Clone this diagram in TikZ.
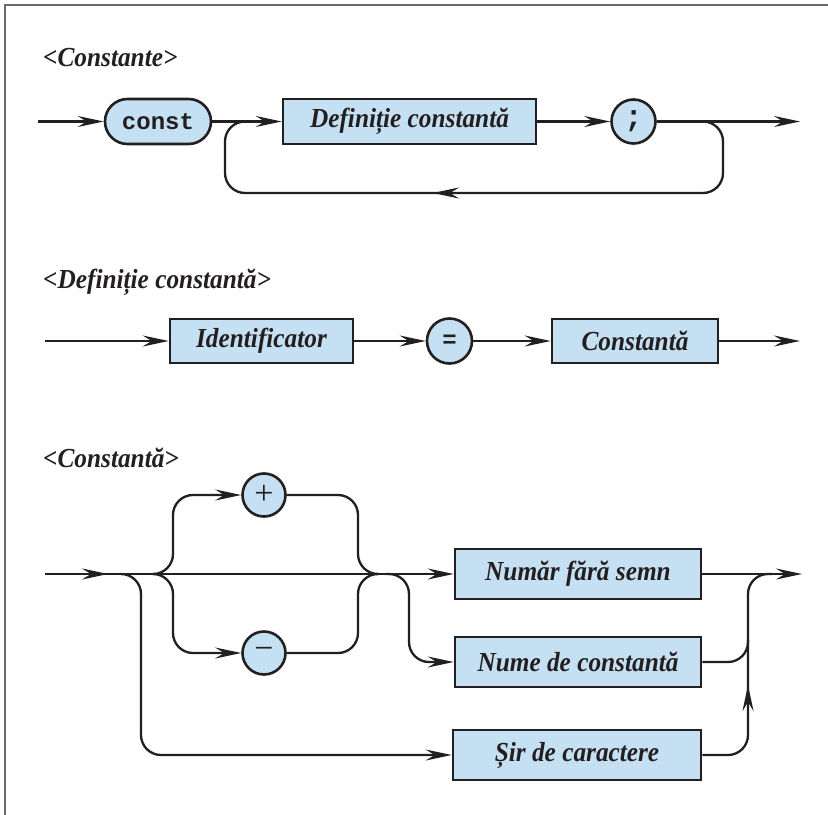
\documentclass[tikz,border=0pt]{standalone}
\usepackage{fontspec}
\setmainfont{Liberation Serif}
\setmonofont{Liberation Mono}
\newfontfamily\labelfont{Liberation Serif}[FakeStretch=0.92]
\usetikzlibrary{arrows.meta,shapes.misc}
\definecolor{boxfill}{RGB}{197,224,242}
\definecolor{ink}{RGB}{35,31,32}
\definecolor{framegray}{RGB}{105,105,105}
\begin{document}
\begin{tikzpicture}[x=1bp,y=-1bp,
  >={Stealth[length=26bp,width=11bp,inset=9bp]},
  conn/.style={draw=ink,line width=2.3bp,rounded corners=20bp},
  term/.style={draw=ink,fill=boxfill,line width=2.6bp,inner sep=0pt},
  ntbox/.style={term,rectangle,text=ink,
    font=\labelfont\fontsize{27.5bp}{32bp}\selectfont\bfseries\itshape},
  kwbox/.style={term,rounded rectangle,text=ink,minimum width=106bp,minimum height=45bp,
    font=\fontsize{24bp}{28bp}\selectfont\ttfamily\bfseries},
  symcirc/.style={term,circle,minimum size=44bp,text=ink},
  rulename/.style={anchor=base west,inner sep=0pt,text=ink,
    font=\labelfont\fontsize{27.5bp}{32bp}\selectfont\bfseries\itshape}]
\useasboundingbox (0,0) rectangle (828,815);
\fill[white] (0,0) rectangle (828,815);
% page frame (top and left edges)
\draw[framegray,line width=2bp] (828,5) -- (5,5) -- (5,815);

% ---------------- <Constante> ----------------
\node[rulename] (t1) at (43,67) {<Constante>};
\coordinate (s1) at (38,121.5);
\coordinate (e1) at (800,121.5);
\node[kwbox] (const) at (158,121.5) {const};
\node[ntbox,minimum width=253bp,minimum height=45bp] (def) at (409.5,121.5) {Definiție constantă};
\node[symcirc,font=\fontsize{30bp}{32bp}\selectfont\ttfamily\bfseries] (semi) at (633.5,121.5) {;};
\coordinate (l1a) at (723,121.5);
\coordinate (l1b) at (723,193);
\coordinate (l1c) at (225,193);
\coordinate (l1d) at (225,121.5);
\coordinate (l1e) at (252,121.5);
\coordinate (l1m) at (470,193);
\coordinate (l1t) at (433,193);
\draw[conn,->] (s1) -- (const.west);
\draw[conn,->] (const.east) -- (def.west);
\draw[conn,->] (def.east) -- (semi.west);
\draw[conn,->] (semi.east) -- (e1);
\draw[conn] (semi.east) -- (l1a) -- (l1b) -- (l1c) -- (l1d) -- (l1e);
\draw[conn,->] (l1m) -- (l1t);

% ---------------- <Definiție constantă> ----------------
\node[rulename] (t2) at (43,288) {<Definiție constantă>};
\coordinate (s2) at (45,341);
\coordinate (e2) at (800,341);
\node[ntbox,minimum width=183bp,minimum height=44bp] (ident) at (261.5,341) {Identificator};
\node[symcirc,minimum size=45bp,font=\fontsize{24bp}{28bp}\selectfont\ttfamily\bfseries] (eq) at (449.5,341) {=};
\node[ntbox,minimum width=166bp,minimum height=44bp] (cst) at (635,341) {Constantă};
\draw[conn,->] (s2) -- (ident.west);
\draw[conn,->] (ident.east) -- (eq.west);
\draw[conn,->] (eq.east) -- (cst.west);
\draw[conn,->] (cst.east) -- (e2);

% ---------------- <Constantă> ----------------
\node[rulename] (t3) at (43,467) {<Constantă>};
\coordinate (s3) at (45,574);
\coordinate (m3) at (108,574);
\coordinate (e3) at (802,574);
\node[symcirc,minimum size=43bp,font=\fontsize{34bp}{36bp}\selectfont] (plus) at (264,495) {+};
\node[symcirc,minimum size=43bp,font=\fontsize{34bp}{36bp}\selectfont] (minus) at (264,653) {−};
\node[ntbox,minimum width=246bp,minimum height=50bp] (numar) at (578,574) {Număr fără semn};
\node[ntbox,minimum width=246bp,minimum height=50bp] (nume) at (578,662) {Nume de constantă};
\node[ntbox,minimum width=248bp,minimum height=50bp] (sir) at (577,755) {Șir de caractere};

% main line
\draw[conn,->] (s3) -- (numar.west);
\draw[conn,->] (s3) -- (m3);
\draw[conn,->] (numar.east) -- (e3);

% sign branches
\coordinate (sa) at (155,574);
\coordinate (sb) at (173,574);
\coordinate (sc) at (358,574);
\coordinate (sd) at (377,574);
\draw[conn,->] (sa) -- (sb) -- (sb |- plus) -- (plus.west);
\draw[conn] (plus.east) -- (sc |- plus) -- (sc) -- (sd);
\draw[conn,->] (sa) -- (sb) -- (sb |- minus) -- (minus.west);
\draw[conn] (minus.east) -- (sc |- minus) -- (sc) -- (sd);

% branch to the string literal
\coordinate (ba) at (122,574);
\coordinate (bb) at (141,574);
\draw[conn,->] (ba) -- (bb) -- (bb |- sir) -- (sir.west);

% branch to the constant name
\coordinate (na) at (386,574);
\coordinate (nb) at (409,574);
\draw[conn,->] (na) -- (nb) -- (nb |- nume) -- (nume.west);

% merging on the right
\coordinate (ra) at (748,574);
\coordinate (rb) at (772,574);
\coordinate (rc) at (748,640);
\coordinate (ru) at (748,712);
\coordinate (rt) at (748,685);
\draw[conn] (nume.east) -- (ra |- nume) -- (ra) -- (rb);
\draw[conn] (sir.east) -- (ra |- sir) -- (rc);
\draw[conn,->] (ru) -- (rt);
\end{tikzpicture}
\end{document}
